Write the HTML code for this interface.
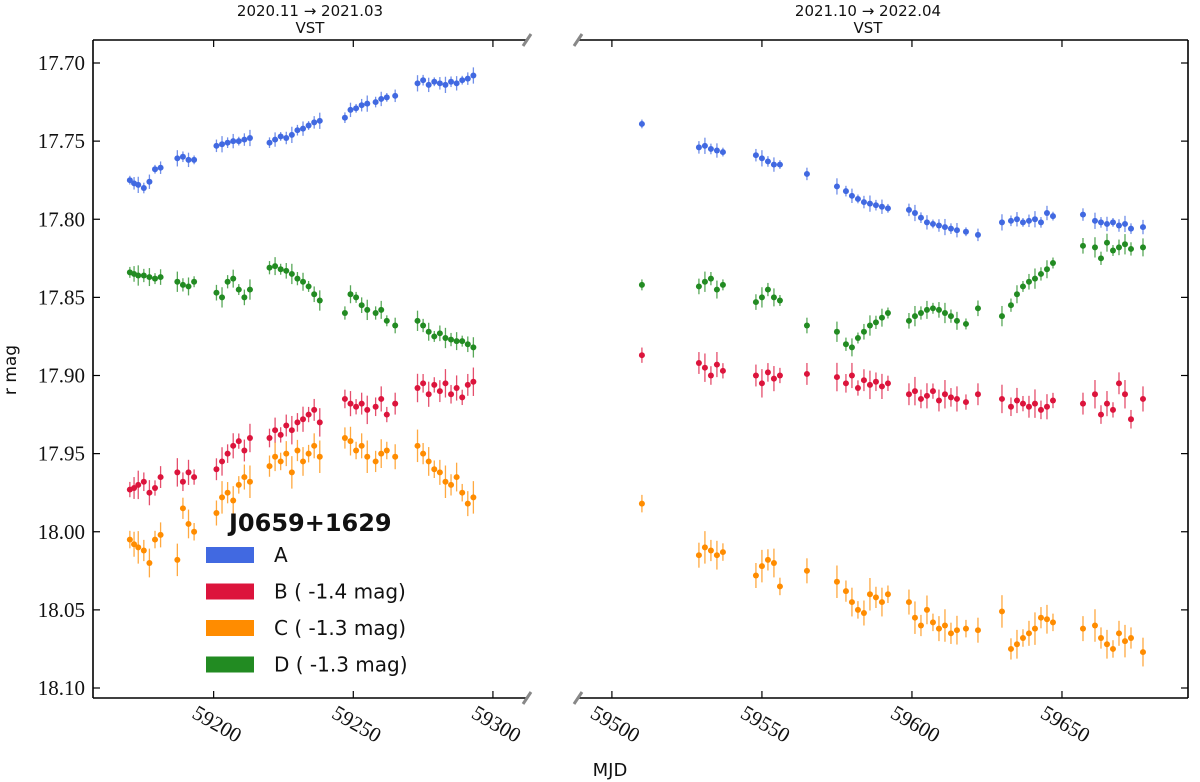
<!DOCTYPE html>
<html><head><meta charset="utf-8">
<style>
html,body{margin:0;padding:0;background:#fff;}
svg{display:block;}
.tk{font-family:"Liberation Serif",serif;font-size:21px;fill:#111;}
.sans{font-family:"DejaVu Sans","Liberation Sans",sans-serif;fill:#111;}
</style></head>
<body>
<svg id="chart" width="1200" height="782" viewBox="0 0 1200 782" xmlns="http://www.w3.org/2000/svg"></svg>
<script>
// ---- data ----
const tLeft = [59170,59171.5,59173,59175,59177,59179,59181, 59187,59189,59191,59193, 59201,59203,59205,59207,59209,59211,59213, 59220,59222,59224,59226,59228,59230,59232,59234,59236,59238, 59247,59249,59251,59253,59255, 59258,59260,59262,59265, 59273,59275,59277,59279,59281,59283,59285,59287,59289,59291,59293];
const aLeft = [17.775,17.777,17.778,17.780,17.776,17.768,17.767, 17.761,17.760,17.762,17.762, 17.753,17.752,17.751,17.750,17.750,17.749,17.748, 17.751,17.749,17.747,17.748,17.746,17.743,17.742,17.740,17.738,17.737, 17.735,17.730,17.729,17.727,17.726, 17.725,17.723,17.722,17.721, 17.713,17.711,17.714,17.712,17.713,17.714,17.712,17.713,17.711,17.710,17.708];
const bLeft = [17.973,17.972,17.970,17.968,17.975,17.972,17.965, 17.962,17.968,17.962,17.965, 17.960,17.955,17.950,17.945,17.942,17.948,17.940, 17.940,17.935,17.938,17.932,17.935,17.930,17.928,17.925,17.922,17.930, 17.915,17.918,17.920,17.918,17.922, 17.920,17.915,17.925,17.918, 17.908,17.905,17.912,17.906,17.910,17.905,17.912,17.908,17.914,17.906,17.904];
const cLeft = [18.005,18.008,18.010,18.012,18.020,18.005,18.002, 18.018,17.985,17.995,18.000, 17.988,17.978,17.975,17.980,17.970,17.965,17.968, 17.958,17.952,17.955,17.950,17.962,17.948,17.955,17.950,17.945,17.952, 17.940,17.942,17.948,17.945,17.952, 17.955,17.950,17.948,17.952, 17.945,17.950,17.955,17.960,17.962,17.968,17.970,17.965,17.975,17.982,17.978];
const dLeft = [17.834,17.835,17.836,17.836,17.837,17.838,17.837, 17.840,17.842,17.843,17.840, 17.847,17.850,17.840,17.838,17.845,17.850,17.845, 17.831,17.830,17.832,17.833,17.835,17.838,17.840,17.843,17.848,17.852, 17.860,17.848,17.850,17.855,17.858, 17.860,17.858,17.865,17.868, 17.865,17.868,17.872,17.875,17.873,17.876,17.877,17.878,17.878,17.880,17.882];

const tRight = [59510, 59529,59531,59533,59535,59537, 59548,59550,59552,59554,59556, 59565, 59575,59578,59580,59582,59584,59586,59588,59590,59592, 59599,59601,59603,59605,59607,59609,59611,59613,59615,59618,59622, 59630,59633,59635,59637,59639,59641,59643,59645,59647, 59657,59661,59663,59665,59667,59669,59671,59673,59677];
const aRight = [17.739, 17.754,17.753,17.755,17.756,17.757, 17.759,17.761,17.763,17.765,17.765, 17.771, 17.779,17.782,17.785,17.787,17.789,17.790,17.791,17.792,17.793, 17.794,17.796,17.799,17.802,17.803,17.804,17.805,17.806,17.807,17.808,17.810, 17.802,17.801,17.800,17.802,17.801,17.800,17.802,17.796,17.798, 17.797,17.801,17.802,17.803,17.802,17.804,17.803,17.806,17.805];
const bRight = [17.887, 17.892,17.895,17.900,17.893,17.897, 17.900,17.905,17.898,17.902,17.900, 17.899, 17.901,17.905,17.900,17.908,17.903,17.906,17.904,17.907,17.905, 17.912,17.910,17.915,17.913,17.910,17.916,17.912,17.914,17.915,17.917,17.912, 17.915,17.920,17.916,17.918,17.920,17.918,17.922,17.920,17.916, 17.918,17.912,17.925,17.918,17.922,17.905,17.912,17.928,17.915];
const cRight = [17.982, 18.015,18.010,18.012,18.015,18.013, 18.028,18.022,18.018,18.020,18.035, 18.025, 18.032,18.038,18.045,18.050,18.052,18.040,18.042,18.045,18.040, 18.045,18.055,18.060,18.050,18.058,18.062,18.060,18.065,18.063,18.062,18.063, 18.051,18.075,18.072,18.068,18.065,18.062,18.055,18.056,18.058, 18.062,18.060,18.068,18.072,18.075,18.065,18.070,18.068,18.077];
const dRight = [17.842, 17.843,17.840,17.838,17.845,17.842, 17.853,17.850,17.845,17.850,17.852, 17.868, 17.872,17.880,17.882,17.876,17.872,17.868,17.866,17.863,17.860, 17.865,17.862,17.860,17.858,17.857,17.858,17.860,17.862,17.865,17.867,17.857, 17.862,17.855,17.848,17.843,17.840,17.838,17.835,17.832,17.828, 17.817,17.818,17.825,17.815,17.820,17.818,17.816,17.819,17.818];

const yTicks = [17.70,17.75,17.80,17.85,17.90,17.95,18.00,18.05,18.10];
const xTicksLeft = [59200,59250,59300];
const xTicksRight = [59500,59550,59600,59650];
const seriesNames = ["A","B ( -1.4 mag)","C ( -1.3 mag)","D ( -1.3 mag)"];
const errA = 0.004, errB = 0.007, errC = 0.008, errD = 0.005;

// ---- layout ----
const NS = "http://www.w3.org/2000/svg";
const svg = document.getElementById('chart');
const top_ = 40, bot = 698;
const L = {x0:93, x1:527, d0:59156.8, d1:59312.2};
const R = {x0:578, x1:1188, d0:59488.7, d1:59692};
const colors = ["#4169e1","#dc143c","#ff8c00","#228b22"];
function yS(v){ return 63 + (v-17.70)*1562.5; }
function xS(p,t){ return p.x0 + (t-p.d0)/(p.d1-p.d0)*(p.x1-p.x0); }
function mk(tag, attrs, parent){
  const e = document.createElementNS(NS, tag);
  for (const k in attrs) e.setAttribute(k, attrs[k]);
  (parent||svg).appendChild(e);
  return e;
}

function drawSeries(p, ts, vals, err, color, name){
  const g = mk('g', {});
  
  
  for (let i=0;i<ts.length;i++){
    const x = xS(p, ts[i]), y = yS(vals[i]);
    const e = err * (0.7 + 0.6*((i*7)%5)/4);
    const l = mk('line', {x1:x,x2:x,y1:yS(vals[i]-e),y2:yS(vals[i]+e),stroke:color,'stroke-width':1.3,'stroke-opacity':0.75}, g);
    
    
    const c = mk('circle', {cx:x, cy:y, r:3, fill:color}, g);
    
    
  }
}

function drawPanel(p, side, xt){
  const g = mk('g', {});
  
  
  mk('line',{x1:p.x0,x2:p.x1,y1:top_,y2:top_,stroke:'#000','stroke-width':1.6},g);
  mk('line',{x1:p.x0,x2:p.x1,y1:bot,y2:bot,stroke:'#000','stroke-width':1.6},g);
  const sx = side==='left' ? p.x0 : p.x1;
  mk('line',{x1:sx,x2:sx,y1:top_,y2:bot,stroke:'#000','stroke-width':1.6},g);
  for (const v of yTicks){
    const y = yS(v);
    const dir = side==='left' ? 1 : -1;
    mk('line',{x1:sx,x2:sx+dir*7,y1:y,y2:y,stroke:'#000','stroke-width':1.2},g);
    if (side==='left'){
      const t = mk('text',{x:sx-8,y:y+7,'text-anchor':'end',class:'tk'},g);
      t.textContent = v.toFixed(2);
      
      
    }
  }
  for (const v of xt){
    const x = xS(p, v);
    mk('line',{x1:x,x2:x,y1:bot,y2:bot-7,stroke:'#000','stroke-width':1.2},g);
    mk('line',{x1:x,x2:x,y1:top_,y2:top_+7,stroke:'#000','stroke-width':1.2},g);
    const t = mk('text',{x:0,y:0,'text-anchor':'middle',class:'tk',transform:`translate(${x},${730}) rotate(30)`},g);
    t.textContent = v;
    
    
  }
  const bx = side==='left' ? p.x1 : p.x0;
  for (const y of [top_, bot]){
    const b = mk('line',{x1:bx-4,x2:bx+4,y1:y+6,y2:y-6,stroke:'#888','stroke-width':3},g);
    
    
  }
}

drawPanel(L,'left',xTicksLeft);
drawPanel(R,'right',xTicksRight);
drawSeries(L,tLeft,aLeft,errA,colors[0],'series-a-left');
drawSeries(L,tLeft,dLeft,errD,colors[3],'series-d-left');
drawSeries(L,tLeft,bLeft,errB,colors[1],'series-b-left');
drawSeries(L,tLeft,cLeft,errC,colors[2],'series-c-left');
drawSeries(R,tRight,aRight,errA,colors[0],'series-a-right');
drawSeries(R,tRight,dRight,errD,colors[3],'series-d-right');
drawSeries(R,tRight,bRight,errB,colors[1],'series-b-right');
drawSeries(R,tRight,cRight,errC,colors[2],'series-c-right');

function txt(x,y,s,cls,size,name,extra){
  const t = mk('text',Object.assign({x:x,y:y,class:cls,'font-size':size,'text-anchor':'middle'},extra||{}));
  t.textContent = s;
  
  
  return t;
}
txt(310,16,'2020.11 → 2021.03','sans',15,'left-panel-title-dates');
txt(310,33,'VST','sans',15,'left-panel-title-telescope');
txt(868,16,'2021.10 → 2022.04','sans',15,'right-panel-title-dates');
txt(868,33,'VST','sans',15,'right-panel-title-telescope');
txt(610,776,'MJD','sans',18,'x-axis-title');
txt(0,0,'r mag','sans',17,'y-axis-title',{transform:'translate(16,370) rotate(-90)'});

const lg = mk('g',{});


const lt = mk('text',{x:229,y:531,class:'sans','font-size':24,'font-weight':'bold'},lg);
lt.textContent = 'J0659+1629';


for (let i=0;i<4;i++){
  const yc = 555 + i*36.5;
  const r = mk('rect',{x:206,y:yc-8,width:48,height:16,fill:colors[i]},lg);
  
  
  const t = mk('text',{x:274,y:yc+7,class:'sans','font-size':20},lg);
  t.textContent = seriesNames[i];
  
  
}
</script>
</body></html>
